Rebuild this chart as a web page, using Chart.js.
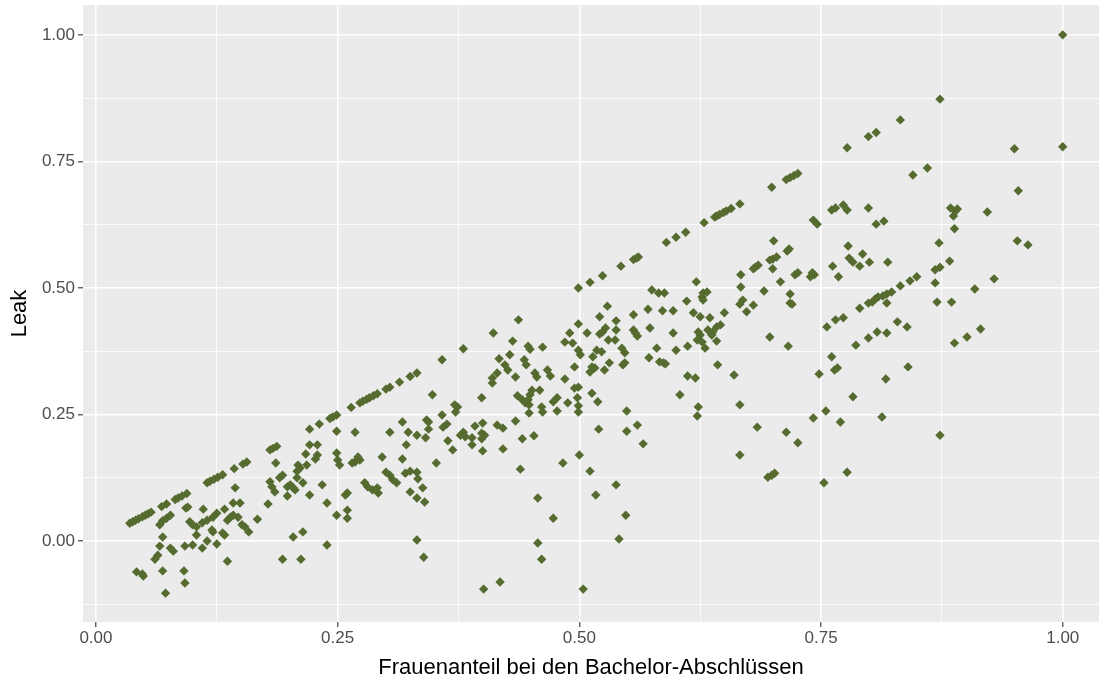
<!DOCTYPE html>
<html>
<head>
<meta charset="utf-8">
<script src="https://cdn.jsdelivr.net/npm/chart.js@4.4.1/dist/chart.umd.min.js"></script>
<style>
  html, body { margin: 0; padding: 0; background: #ffffff; }
  #wrap { width: 1099px; height: 686px; }
</style>
</head>
<body>
<div id="wrap"><canvas id="c" width="1099" height="686"></canvas></div>
<script>
// ---- Data (Frauenanteil bei den Bachelor-Abschlüssen vs. Leak) ----
const shareDiag = [0.035,0.038,0.041,0.044,0.048,0.051,0.054,0.057,0.068,0.073,0.082,0.085,0.089,0.094,0.115,0.118,0.122,0.126,0.131,0.143,0.152,0.156,0.180,0.183,0.187,0.221,0.231,0.242,0.245,0.249,0.264,0.273,0.276,0.280,0.283,0.287,0.291,0.300,0.304,0.314,0.325,0.332,0.358,0.380,0.411,0.437,0.499,0.511,0.524,0.543,0.556,0.559,0.561,0.590,0.600,0.610,0.629,0.640,0.642,0.645,0.649,0.652,0.657,0.666,0.699,0.714,0.718,0.722,0.726,0.777,0.799,0.807,0.832,0.873,1.000];
const leakDiag  = [0.035,0.038,0.041,0.044,0.048,0.051,0.054,0.057,0.068,0.073,0.082,0.085,0.089,0.094,0.115,0.118,0.122,0.126,0.131,0.143,0.152,0.156,0.180,0.183,0.187,0.221,0.231,0.242,0.245,0.249,0.264,0.273,0.276,0.280,0.283,0.287,0.291,0.300,0.304,0.314,0.325,0.332,0.358,0.380,0.411,0.437,0.500,0.511,0.524,0.543,0.556,0.559,0.561,0.590,0.600,0.610,0.629,0.640,0.642,0.645,0.649,0.652,0.657,0.666,0.699,0.714,0.718,0.722,0.726,0.777,0.799,0.807,0.832,0.873,1.000];

const shareLow = [0.066,0.069,0.073,0.077,0.093,0.095,0.111,0.097,0.100,0.104,0.110,0.115,0.121,0.125,0.133,0.136,0.139,0.142,0.147,0.144,0.142,0.149,0.151,0.154,0.158,0.167,0.120,0.121,0.131,0.133,0.104,0.115,0.125,0.100,0.110,0.092,0.069,0.066,0.077,0.080,0.064,0.061,0.042,0.048,0.049,0.069,0.091,0.092,0.072,0.136,0.193,0.178,0.180,0.182,0.185,0.190,0.193,0.198,0.198,0.186];
const leakLow  = [0.032,0.040,0.045,0.051,0.065,0.067,0.063,0.038,0.032,0.028,0.036,0.041,0.047,0.055,0.063,0.041,0.047,0.051,0.047,0.105,0.075,0.075,0.032,0.028,0.018,0.043,0.022,0.018,0.016,0.012,0.012,0.000,-0.006,-0.008,-0.014,-0.010,0.008,-0.010,-0.014,-0.020,-0.028,-0.036,-0.061,-0.065,-0.069,-0.059,-0.059,-0.083,-0.103,-0.040,-0.036,0.073,0.117,0.107,0.097,0.125,0.130,0.107,0.089,0.154];

const shareMidA = [0.348,0.249,0.268,0.304,0.317,0.323,0.332,0.341,0.342,0.344,0.344,0.358,0.359,0.363,0.364,0.321,0.221,0.229,0.217,0.229,0.227,0.209,0.211,0.208,0.218,0.208,0.214,0.201,0.204,0.206,0.221,0.234,0.249,0.250,0.252,0.265,0.268,0.271,0.273,0.258,0.260,0.239,0.249,0.260,0.260,0.278,0.281,0.286,0.291,0.292,0.296,0.317,0.300,0.304,0.307,0.311,0.320,0.325,0.332,0.333,0.338,0.325,0.332,0.340,0.352,0.369,0.204,0.214,0.239,0.212,0.332,0.339];
const leakMidA  = [0.289,0.217,0.215,0.215,0.235,0.215,0.209,0.204,0.239,0.235,0.221,0.249,0.225,0.231,0.198,0.190,0.190,0.190,0.172,0.170,0.162,0.150,0.144,0.138,0.150,0.125,0.115,0.111,0.105,0.101,0.091,0.111,0.174,0.160,0.150,0.154,0.156,0.166,0.160,0.091,0.095,0.075,0.051,0.061,0.045,0.115,0.107,0.101,0.105,0.095,0.166,0.162,0.136,0.130,0.121,0.115,0.134,0.138,0.136,0.123,0.105,0.097,0.085,0.077,0.154,0.180,0.008,0.018,-0.008,-0.036,0.002,-0.032];

const shareMidB = [0.431,0.449,0.447,0.462,0.485,0.490,0.499,0.508,0.493,0.499,0.501,0.521,0.527,0.524,0.521,0.538,0.538,0.537,0.530,0.544,0.547,0.518,0.523,0.514,0.513,0.511,0.516,0.526,0.495,0.531,0.545,0.428,0.417,0.423,0.426,0.415,0.410,0.410,0.443,0.445,0.434,0.454,0.456,0.467,0.470,0.485,0.495,0.499,0.451,0.449,0.447,0.436,0.441,0.444,0.448,0.459,0.399,0.371,0.374,0.372,0.473,0.477,0.461,0.462,0.477,0.488,0.498,0.499,0.499,0.513,0.519,0.448,0.549,0.529,0.380,0.377,0.382,0.392,0.400,0.389,0.389,0.399,0.402,0.399,0.400,0.415,0.421,0.421,0.434,0.441,0.453,0.520,0.549,0.439,0.483,0.500,0.511,0.538,0.517,0.457,0.473,0.548,0.541,0.457,0.461,0.418,0.401,0.504];
const leakMidB  = [0.395,0.379,0.385,0.383,0.393,0.411,0.429,0.411,0.391,0.377,0.368,0.443,0.421,0.413,0.409,0.435,0.417,0.397,0.397,0.381,0.372,0.377,0.374,0.364,0.344,0.334,0.342,0.338,0.344,0.352,0.348,0.368,0.360,0.348,0.338,0.332,0.322,0.312,0.358,0.348,0.324,0.332,0.324,0.338,0.326,0.320,0.302,0.304,0.298,0.289,0.279,0.287,0.279,0.273,0.269,0.298,0.283,0.269,0.265,0.255,0.275,0.283,0.265,0.255,0.257,0.273,0.283,0.267,0.255,0.292,0.275,0.253,0.257,0.464,0.215,0.209,0.206,0.227,0.233,0.204,0.190,0.213,0.209,0.202,0.178,0.229,0.223,0.182,0.237,0.202,0.208,0.221,0.217,0.142,0.154,0.170,0.138,0.111,0.091,0.085,0.045,0.051,0.004,-0.004,-0.036,-0.081,-0.095,-0.095];

const shareHighA = [0.701,0.715,0.717,0.704,0.700,0.697,0.700,0.685,0.682,0.680,0.667,0.667,0.723,0.726,0.708,0.691,0.718,0.718,0.720,0.669,0.666,0.680,0.673,0.621,0.632,0.628,0.627,0.628,0.611,0.575,0.582,0.588,0.571,0.586,0.597,0.556,0.618,0.625,0.635,0.650,0.556,0.558,0.560,0.573,0.597,0.623,0.625,0.622,0.627,0.633,0.638,0.642,0.646,0.637,0.642,0.612,0.630,0.580,0.600,0.572,0.547,0.583,0.587,0.589,0.643,0.660,0.612,0.620,0.697,0.716,0.604,0.623,0.622,0.666,0.560,0.566,0.684,0.714,0.726,0.666,0.695,0.699,0.702];
const leakHighA  = [0.593,0.573,0.577,0.561,0.557,0.555,0.538,0.545,0.541,0.538,0.526,0.502,0.526,0.530,0.512,0.494,0.488,0.470,0.468,0.476,0.468,0.466,0.453,0.512,0.492,0.490,0.482,0.476,0.474,0.496,0.490,0.490,0.458,0.455,0.455,0.447,0.451,0.443,0.441,0.451,0.417,0.411,0.405,0.421,0.411,0.413,0.407,0.397,0.393,0.417,0.413,0.423,0.427,0.407,0.395,0.385,0.381,0.381,0.377,0.362,0.352,0.354,0.352,0.350,0.348,0.328,0.326,0.322,0.403,0.385,0.289,0.265,0.247,0.269,0.229,0.192,0.225,0.215,0.194,0.170,0.126,0.130,0.134];

const shareHighB = [0.860,0.845,0.761,0.765,0.773,0.777,0.799,0.742,0.746,0.807,0.815,0.884,0.889,0.891,0.887,0.888,0.872,0.883,0.868,0.873,0.778,0.779,0.783,0.793,0.800,0.790,0.762,0.819,0.768,0.741,0.743,0.739,0.849,0.842,0.868,0.832,0.823,0.818,0.814,0.809,0.806,0.803,0.799,0.818,0.790,0.773,0.765,0.756,0.870,0.885,0.829,0.839,0.808,0.818,0.799,0.786,0.888,0.901,0.761,0.767,0.764,0.748,0.840,0.817,0.783,0.755,0.742,0.770,0.813,0.873,0.777,0.753,0.950,0.954,0.922,0.953,0.964,0.929,0.909,0.915,1.000];
const leakHighB  = [0.737,0.723,0.654,0.658,0.664,0.654,0.658,0.634,0.626,0.626,0.632,0.658,0.652,0.656,0.642,0.617,0.589,0.553,0.536,0.541,0.583,0.559,0.551,0.567,0.551,0.543,0.543,0.551,0.522,0.530,0.526,0.522,0.522,0.514,0.510,0.504,0.492,0.488,0.484,0.482,0.478,0.472,0.470,0.470,0.460,0.441,0.437,0.423,0.472,0.472,0.433,0.423,0.413,0.411,0.401,0.387,0.391,0.403,0.364,0.342,0.338,0.330,0.344,0.320,0.285,0.257,0.243,0.235,0.245,0.209,0.136,0.115,0.775,0.692,0.650,0.593,0.585,0.518,0.498,0.419,0.779];

const xTickLabels = ['0.00', '0.25', '0.50', '0.75', '1.00'];
const yTickLabels = ['0.00', '0.25', '0.50', '0.75', '1.00'];

// ---- Build points ----
function zip(xs, ys) { return xs.map((x, i) => ({ x: x, y: ys[i] })); }
const points = [].concat(
  zip(shareDiag, leakDiag),
  zip(shareLow, leakLow),
  zip(shareMidA, leakMidA),
  zip(shareMidB, leakMidB),
  zip(shareHighA, leakHighA),
  zip(shareHighB, leakHighB)
);

const FONT = "'Liberation Sans', Arial, sans-serif";
function isMajor(v) { return Math.abs(v / 0.25 - Math.round(v / 0.25)) < 1e-6; }
function labelFor(list) {
  return function (v) {
    if (!isMajor(v)) return '';
    const idx = Math.round(v / 0.25);
    return (idx >= 0 && idx < list.length) ? list[idx] : '';
  };
}

const panelBg = {
  id: 'panelBg',
  beforeDraw(chart) {
    const a = chart.chartArea, ctx = chart.ctx;
    ctx.save();
    ctx.fillStyle = '#EBEBEB';
    ctx.fillRect(a.left, a.top, a.right - a.left, a.bottom - a.top);
    ctx.restore();
  }
};

function gridOpts() {
  return {
    drawOnChartArea: true,
    color: '#FFFFFF',
    lineWidth: (c) => (c.tick && isMajor(c.tick.value)) ? 1.6 : 0.8,
    tickColor: (c) => (c.tick && isMajor(c.tick.value)) ? '#333333' : 'rgba(0,0,0,0)',
    tickLength: 5,
    tickWidth: 1.1
  };
}

new Chart(document.getElementById('c'), {
  type: 'scatter',
  data: {
    datasets: [{
      data: points,
      pointStyle: 'rectRot',
      pointRadius: 4.7,
      pointHoverRadius: 4.7,
      pointBackgroundColor: '#556B2F',
      pointBorderWidth: 0,
      pointBorderColor: '#556B2F'
    }]
  },
  options: {
    responsive: false,
    animation: false,
    events: [],
    layout: { autoPadding: false, padding: { top: 5, right: 0, bottom: 0, left: 0 } },
    plugins: { legend: { display: false }, tooltip: { enabled: false } },
    scales: {
      x: {
        type: 'linear',
        min: -0.0134,
        max: 1.0375,
        afterFit: (s) => { s.height = 64; s.paddingLeft = 0; s.paddingRight = 0; },
        border: { display: false },
        grid: gridOpts(),
        ticks: {
          stepSize: 0.125,
          includeBounds: false,
          autoSkip: false,
          maxRotation: 0,
          padding: 1,
          color: '#4D4D4D',
          font: { family: FONT, size: 17 },
          callback: labelFor(xTickLabels)
        },
        title: {
          display: true,
          text: 'Frauenanteil bei den Bachelor-Abschlüssen',
          color: '#000000',
          font: { family: FONT, size: 22 },
          padding: { top: 0, bottom: 5 }
        }
      },
      y: {
        type: 'linear',
        min: -0.16,
        max: 1.059,
        afterFit: (s) => { s.width = 83; s.paddingTop = 0; s.paddingBottom = 0; },
        border: { display: false },
        grid: gridOpts(),
        ticks: {
          stepSize: 0.125,
          includeBounds: false,
          autoSkip: false,
          padding: 3,
          color: '#4D4D4D',
          font: { family: FONT, size: 17 },
          callback: labelFor(yTickLabels)
        },
        title: {
          display: true,
          text: 'Leak',
          color: '#000000',
          font: { family: FONT, size: 22 },
          padding: { top: 7, bottom: 0 }
        }
      }
    }
  },
  plugins: [panelBg]
});
</script>
</body>
</html>
